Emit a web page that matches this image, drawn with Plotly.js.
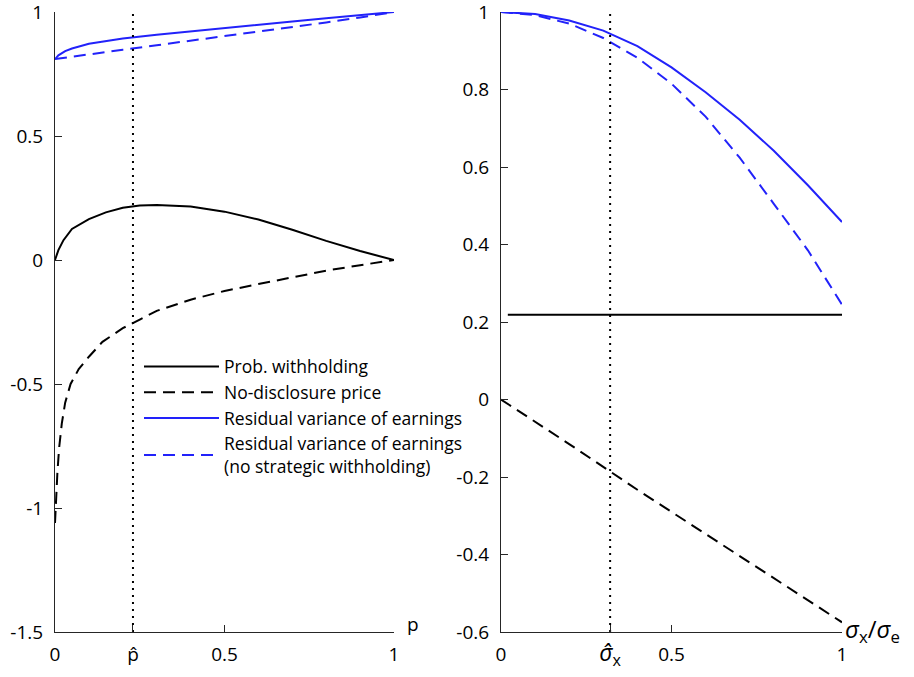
<!DOCTYPE html>
<html>
<head>
<meta charset="utf-8">
<script src="https://cdn.plot.ly/plotly-3.0.1.min.js"></script>
<style>html,body{margin:0;padding:0;background:#fff;}#chart{width:914px;height:677px;}</style>
</head>
<body>
<div id="chart"></div>
<script>
// ---- Left panel (x = p) ----
const pHat = 0.23;
const leftProbX = [0, 0.01, 0.025, 0.05, 0.1, 0.15, 0.2, 0.25, 0.3, 0.4, 0.5, 0.6, 0.7, 0.8, 0.9, 1];
const leftProbY = [0, 0.04, 0.08, 0.125, 0.165, 0.192, 0.211, 0.22, 0.222, 0.216, 0.195, 0.163, 0.122, 0.077, 0.036, 0];
const leftPriceX = [0, 0.003, 0.007, 0.012, 0.02, 0.03, 0.046, 0.07, 0.1, 0.14, 0.2, 0.25, 0.3, 0.4, 0.5, 0.6, 0.7, 0.8, 0.9, 1];
const leftPriceY = [-1.06, -0.95, -0.86, -0.76, -0.66, -0.575, -0.5, -0.44, -0.39, -0.33, -0.275, -0.24, -0.205, -0.16, -0.125, -0.097, -0.07, -0.043, -0.021, 0];
const leftVarX = [0, 0.01, 0.03, 0.05, 0.1, 0.15, 0.2, 0.3, 0.4, 0.5, 0.6, 0.7, 0.8, 0.9, 1];
const leftVarY = [0.81, 0.825, 0.842, 0.853, 0.872, 0.884, 0.893, 0.908, 0.922, 0.935, 0.948, 0.962, 0.975, 0.988, 1.0];
const leftVarNsX = [0, 0.1, 0.2, 0.3, 0.4, 0.5, 0.6, 0.7, 0.8, 0.9, 1];
const leftVarNsY = [0.81, 0.83, 0.848, 0.866, 0.884, 0.902, 0.92, 0.94, 0.958, 0.978, 1.0];

// ---- Right panel (x = sigma_x / sigma_e) ----
const sigHat = 0.32;
const rightX = [0, 0.1, 0.2, 0.3, 0.4, 0.5, 0.6, 0.7, 0.8, 0.9, 1];
const rightVarY = [1.0, 0.995, 0.978, 0.952, 0.912, 0.857, 0.793, 0.722, 0.642, 0.553, 0.458];
const rightVarNsY = [1.0, 0.992, 0.97, 0.933, 0.882, 0.815, 0.73, 0.624, 0.505, 0.385, 0.245];
const rightProbX = [0.02, 1];
const rightProbY = [0.219, 0.219];
const rightPriceX = [0, 0.2, 0.4, 0.6, 0.8, 1];
const rightPriceY = [0, -0.115, -0.233, -0.347, -0.46, -0.575];

// ---- Ticks ----
const leftYTicks = [-1.5, -1, -0.5, 0, 0.5, 1];
const leftYText = ['-1.5', '-1', '-0.5', '0', '0.5', '1'];
const rightYTicks = [-0.6, -0.4, -0.2, 0, 0.2, 0.4, 0.6, 0.8, 1];
const rightYText = ['-0.6', '-0.4', '-0.2', '0', '0.2', '0.4', '0.6', '0.8', '1'];
const leftXTicks = [0, pHat, 0.5, 1];
const leftXText = ['0', 'p\u0302', '0.5', '1'];
const rightXTicks = [0, sigHat, 0.5, 1];
const rightXText = ['0', '<span style="font-size:23px"><i>σ\u0302</i><sub>x</sub></span>', '0.5', '1'];

const legendNames = ['Prob. withholding', 'No-disclosure price', 'Residual variance of earnings', 'Residual variance of earnings<br>(no strategic withholding)'];

const BLUE = 'rgb(34,34,250)';
const BLACK = '#000000';
const DASH = '12px,7px';
const DOT = '2px,5px';
const LW = 2;

const traces = [
  {x: leftProbX, y: leftProbY, name: legendNames[0], line: {color: BLACK, width: LW}},
  {x: leftPriceX, y: leftPriceY, name: legendNames[1], line: {color: BLACK, width: LW, dash: DASH}},
  {x: leftVarX, y: leftVarY, name: legendNames[2], line: {color: BLUE, width: LW}},
  {x: leftVarNsX, y: leftVarNsY, name: legendNames[3], line: {color: BLUE, width: LW, dash: DASH}},
  {x: [pHat, pHat], y: [-1.5, 1], showlegend: false, line: {color: BLACK, width: 2, dash: DOT}},
  {x: rightX, y: rightVarY, xaxis: 'x2', yaxis: 'y2', showlegend: false, line: {color: BLUE, width: LW}},
  {x: rightX, y: rightVarNsY, xaxis: 'x2', yaxis: 'y2', showlegend: false, line: {color: BLUE, width: LW, dash: DASH}},
  {x: rightProbX, y: rightProbY, xaxis: 'x2', yaxis: 'y2', showlegend: false, line: {color: BLACK, width: LW}},
  {x: rightPriceX, y: rightPriceY, xaxis: 'x2', yaxis: 'y2', showlegend: false, line: {color: BLACK, width: LW, dash: DASH}},
  {x: [sigHat, sigHat], y: [-0.6, 1], xaxis: 'x2', yaxis: 'y2', showlegend: false, line: {color: BLACK, width: 2, dash: DOT}}
].map(t => Object.assign({type: 'scatter', mode: 'lines', hoverinfo: 'skip'}, t));

const TICKFONT = {family: 'Open Sans', size: 19, color: '#000'};

const AX = {
  showline: true, linecolor: '#262626', linewidth: 1,
  ticks: 'inside', ticklen: 7, tickcolor: '#262626', tickwidth: 1,
  showgrid: false, zeroline: false,
  tickfont: TICKFONT, ticklabeloverflow: 'allow',
  fixedrange: true
};

const layout = {
  width: 914, height: 677,
  margin: {l: 0, r: 0, t: 0, b: 0},
  paper_bgcolor: '#fff', plot_bgcolor: '#fff',
  font: TICKFONT,
  showlegend: true,
  legend: {
    x: 139/914, y: 1 - 348.5/677, xanchor: 'left', yanchor: 'top',
    font: {family: 'Open Sans', size: 17.5, color: '#000'},
    bgcolor: 'rgba(0,0,0,0)', borderwidth: 0,
    tracegroupgap: 0, itemwidth: 75
  },
  xaxis: Object.assign({}, AX, {domain: [55/914, 394/914], range: [0, 1], tickvals: leftXTicks, ticktext: leftXText, ticklabelstandoff: 5, anchor: 'y'}),
  yaxis: Object.assign({}, AX, {domain: [1 - 632/677, 1 - 12/677], range: [-1.5, 1], tickvals: leftYTicks, ticktext: leftYText, ticklabelstandoff: 7, anchor: 'x'}),
  xaxis2: Object.assign({}, AX, {domain: [501/914, 842/914], range: [0, 1], tickvals: rightXTicks, ticktext: rightXText, ticklabelstandoff: 5, anchor: 'y2'}),
  yaxis2: Object.assign({}, AX, {domain: [1 - 632/677, 1 - 12/677], range: [-0.6, 1], tickvals: rightYTicks, ticktext: rightYText, ticklabelstandoff: 7, anchor: 'x2'}),
  annotations: [
    {xref: 'paper', yref: 'paper', x: 405/914, y: 1 - 624/677, text: 'p', showarrow: false, font: TICKFONT, xanchor: 'left', yanchor: 'middle'},
    {xref: 'paper', yref: 'paper', x: 843/914, y: 1 - 630/677, text: '<i>σ</i><sub>x</sub>/<i>σ</i><sub>e</sub>', showarrow: false, font: {family: 'Open Sans', size: 24, color: '#000'}, xanchor: 'left', yanchor: 'middle'}
  ]
};

Plotly.newPlot('chart', traces, layout, {staticPlot: true, displayModeBar: false});
</script>
</body>
</html>
